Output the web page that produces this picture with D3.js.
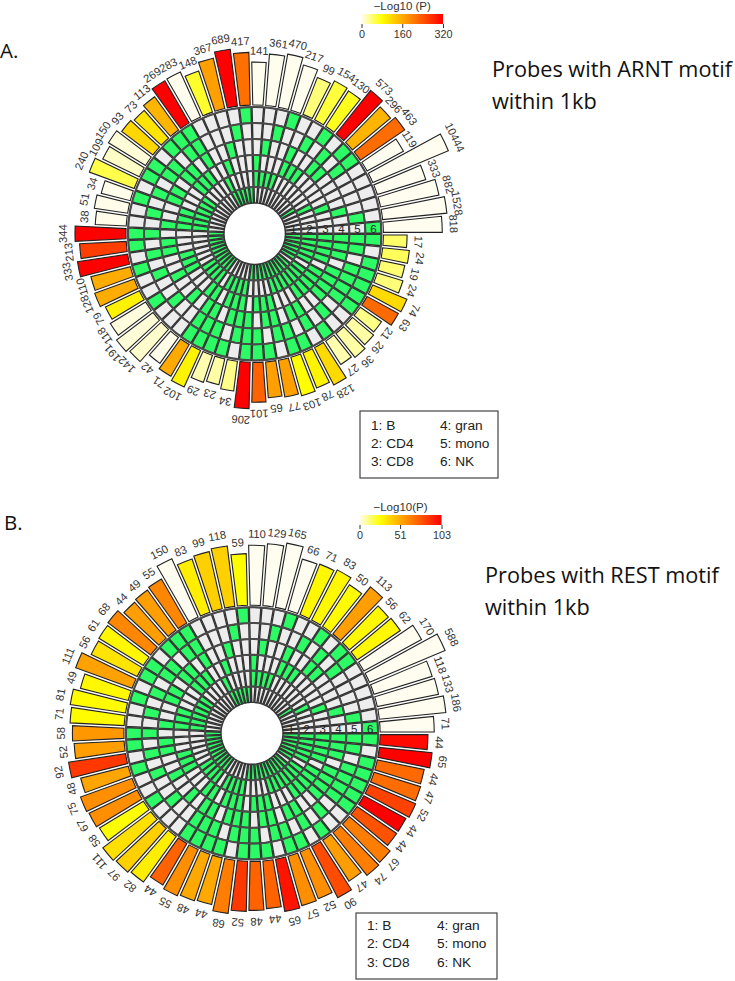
<!DOCTYPE html>
<html><head><meta charset="utf-8">
<script src="https://cdn.jsdelivr.net/npm/d3@7"></script>
<style>
html,body{margin:0;padding:0;background:#fff;}
svg{display:block;}
text{font-family:"Liberation Sans",Arial,sans-serif;}
.note{font-family:"Open Sans",sans-serif;fill:#111;}
</style></head><body>
<script>
const combos = ["123456",
 "12345","12346","12356","12456","13456","23456",
 "1234","1235","1236","1245","1246","1256","1345","1346","1356","1456","2345","2346","2356","2456","3456",
 "123","124","125","126","134","135","136","145","146","156","234","235","236","245","246","256","345","346","356","456",
 "12","13","14","15","16","23","24","25","26","34","35","36","45","46","56",
 "1","2","3","4","5","6"];
const tracks = [1,2,3,4,5,6];
const legendNames = [["1: B","2: CD4","3: CD8"],["4: gran","5: mono","6: NK"]];

const countsA = [17,24,19,24,74,63,21,26,36,27,128,78,103,77,65,101,206,34,23,29,102,71,42,142,191,118,79,128,110,333,213,344,38,51,34,240,109,150,93,73,113,269,283,148,367,689,417,141,361,470,217,99,154,130,573,296,463,119,10444,333,882,1528,818];
const pvalA = [45,50,42,40,115,220,35,25,25,22,115,90,80,170,170,228,320,35,25,22,90,160,3,12,8,6,92,158,158,320,262,320,2,2,2,55,14,8,118,105,150,320,1,65,170,320,215,1,1,1,1,40,60,70,320,150,218,0,0,0,0,0,0];
const ticksA = [0,160,320];

const countsB = [44,65,44,47,52,44,44,67,74,47,90,52,57,65,44,48,52,68,44,48,55,44,82,97,111,58,67,75,48,92,52,58,71,81,49,111,56,61,68,44,49,55,150,83,99,118,59,110,129,165,66,71,83,50,113,56,62,170,588,118,133,186,71];
const pvalB = [100,103,71,70,83,103,78,65,65,55,80,60,60,97,73,73,86,65,52,52,60,73,31,40,35,26,60,60,53,86,55,57,27,27,28,54,34,28,62,55,55,62,0,31,40,40,26,0,0,0,0,28,28,27,55,28,28,0,0,0,0,0,0];
const ticksB = [0,51,103];

const svg = d3.select("body").append("svg").attr("width",735).attr("height",981);
const defs = svg.append("defs");

function chart(cfg){
  const {id,cx,cy,r0,tw,counts,pvals,ticks,legendTitle,lx,ly,lw,lh} = cfg;
  const maxP = ticks[ticks.length-1];
  const color = d3.scaleLinear().domain([0,maxP*0.25,maxP]).range(["#FFFDF0","#FFFF00","#FF0000"]).clamp(true);
  const angle = d3.scaleLinear().domain([0,combos.length]).range([Math.PI/2,Math.PI/2+2*Math.PI]);
  const rTrack = d3.scaleLinear().domain([0,6]).range([r0,r0+6*tw]);
  const rBar = d3.scaleLog().domain([1,d3.max(counts)]).range([rTrack(6),rTrack(6)+84]);
  const g = svg.append("g").attr("transform",`translate(${cx},${cy})`);

  // cells of the six tracks
  const cellArc = d3.arc().padAngle(1/100).padRadius(100);
  combos.forEach((c,i)=>{
    tracks.forEach((t,k)=>{
      g.append("path")
       .attr("d",cellArc({innerRadius:rTrack(k),outerRadius:rTrack(k+1),startAngle:angle(i),endAngle:angle(i+1)}))
       .attr("fill",c.includes(String(t))?"#2CFB66":"#EDEDED")
       .attr("stroke","#333").attr("stroke-width",1.4);
    });
  });
  // track rings
  tracks.forEach(k=>{
    g.append("circle").attr("r",rTrack(k)).attr("fill","none").attr("stroke","#4a4a4a").attr("stroke-width",2);
  });
  // bars
  const barArc = d3.arc().padAngle(2.6/100).padRadius(100);
  combos.forEach((c,i)=>{
    g.append("path")
     .attr("d",barArc({innerRadius:rTrack(6)+2,outerRadius:rBar(counts[i]),startAngle:angle(i),endAngle:angle(i+1)}))
     .attr("fill",color(pvals[i]))
     .attr("stroke","#222").attr("stroke-width",1.1);
    const mid = (angle(i)+angle(i+1))/2, rr = rBar(counts[i])+7.5;
    g.append("text")
     .attr("transform",`translate(${rr*Math.sin(mid)},${-rr*Math.cos(mid)}) rotate(${mid*180/Math.PI})`)
     .attr("text-anchor","middle").attr("font-size",11.2).attr("fill","#333")
     .text(counts[i]);
  });
  // track numbers
  tracks.forEach((t,k)=>{
    g.append("text").attr("x",(rTrack(k)+rTrack(k+1))/2).attr("y",-0.5)
     .attr("text-anchor","middle").attr("font-size",11.5).attr("fill","#222").text(t);
  });
  // p-value legend
  const gid = "grad"+id;
  const grad = defs.append("linearGradient").attr("id",gid);
  d3.range(0,1.001,0.05).forEach(f=>grad.append("stop").attr("offset",f).attr("stop-color",color(f*maxP)));
  const lg = svg.append("g").attr("transform",`translate(${lx},${ly})`);
  lg.append("rect").attr("width",lw).attr("height",lh).attr("fill",`url(#${gid})`);
  const x = d3.scaleLinear().domain([0,maxP]).range([0,lw]);
  const ax = lg.append("g").attr("transform",`translate(0,${lh})`)
     .call(d3.axisBottom(x).tickValues(ticks).tickFormat(d3.format("d")).tickSize(4).tickPadding(2.5));
  ax.select(".domain").remove();
  ax.selectAll("line").attr("stroke","#333");
  ax.selectAll("text").attr("font-size",10.8).attr("fill","#333")
     .style("font-family",'"Liberation Sans",Arial,sans-serif');
  lg.append("text").attr("x",lw/2).attr("y",-4).attr("text-anchor","middle").attr("font-size",11.5).attr("fill","#333").text(legendTitle);
}

function keyBox(x,y,w,h,tx,tx2,rowY){
  const g = svg.append("g");
  g.append("rect").attr("x",x).attr("y",y).attr("width",w).attr("height",h).attr("fill","#fff").attr("stroke","#444").attr("stroke-width",1.2);
  legendNames.forEach((col,c)=>col.forEach((s,r)=>{
    g.append("text").attr("x",c?tx2:tx).attr("y",rowY[r]).attr("font-size",13.7).attr("fill","#222").text(s);
  }));
}
function note(x,y,s,size){ svg.append("text").attr("class","note").attr("x",x).attr("y",y).attr("font-size",size).text(s); }

chart({id:"A",cx:254.7,cy:233.7,r0:30.7,tw:16,counts:countsA,pvals:pvalA,ticks:ticksA,legendTitle:"\u2212Log10 (P)",lx:361.5,ly:14,lw:81.5,lh:10});
chart({id:"B",cx:252,cy:733.3,r0:31,tw:15.85,counts:countsB,pvals:pvalB,ticks:ticksB,legendTitle:"\u2212Log10(P)",lx:359.5,ly:515,lw:82,lh:10});
keyBox(360,411,138,67,371,440,[430,448,466]);
keyBox(356,913,141,66,367,437,[930,948,966.5]);
note(0,58,"A.",20.5); note(4,530,"B.",20.5);
note(492,77.3,"Probes with ARNT motif",21.7); note(492,109.3,"within 1kb",21.7);
note(485,583.3,"Probes with REST motif",21.7); note(485,615,"within 1kb",21.7);
</script>
</body></html>
